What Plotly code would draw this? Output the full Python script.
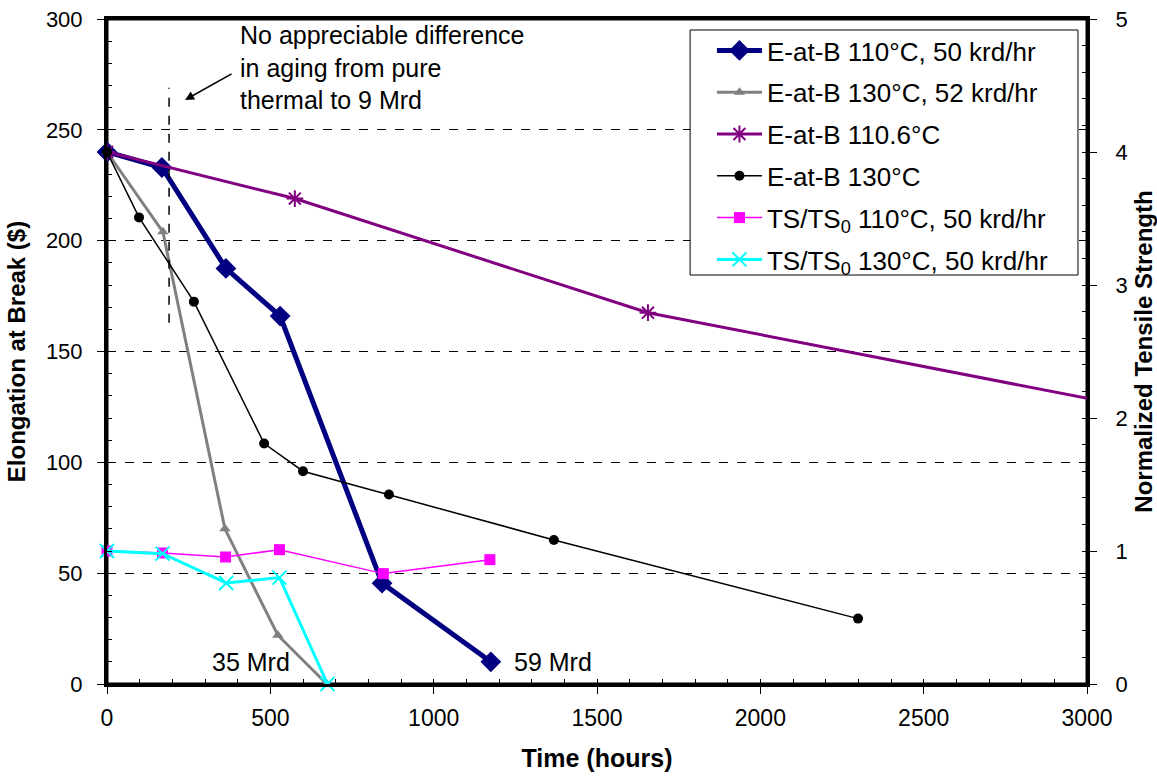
import plotly.graph_objects as go

# E-at-B 110°C, 50 krd/hr
x_eab110r = [0, 168, 364, 530, 842, 1175]
y_eab110r = [240, 233, 187.5, 166, 45.5, 10]
# E-at-B 130°C, 52 krd/hr
x_eab130r = [0, 171, 361, 523, 673]
y_eab130r = [240, 204, 70, 22, 0]
# E-at-B 110.6°C (thermal)
x_eab110t = [0, 575, 1656, 3500]
y_eab110t = [240, 219, 167.5, 114.5]
# E-at-B 130°C (thermal)
x_eab130t = [0, 98, 266, 481, 600, 863, 1368, 2299]
y_eab130t = [240, 210.5, 172.5, 108.5, 96, 85.5, 65, 29.5]
# TS/TS0 110°C, 50 krd/hr
x_ts110 = [0, 170, 363, 528, 846, 1172]
y_ts110 = [1.0, 0.985, 0.955, 1.01, 0.83, 0.935]
# TS/TS0 130°C, 50 krd/hr
x_ts130 = [0, 170, 365, 528, 675]
y_ts130 = [1.0, 0.98, 0.76, 0.80, 0.0]

names = ["E-at-B 110°C, 50 krd/hr", "E-at-B 130°C, 52 krd/hr", "E-at-B 110.6°C",
         "E-at-B 130°C", "TS/TS<sub>0</sub> 110°C, 50 krd/hr", "TS/TS<sub>0</sub> 130°C, 50 krd/hr"]

FONT = "Liberation Sans, Arial, sans-serif"

fig = go.Figure()
fig.add_trace(go.Scatter(x=x_eab110r, y=y_eab110r, name=names[0], mode="lines+markers",
                         line=dict(color="#000080", width=5),
                         marker=dict(symbol="diamond", size=16, color="#000080"),
                         legendgroup="a", cliponaxis=False))
fig.add_trace(go.Scatter(x=x_eab130r, y=y_eab130r, name=names[1], mode="lines+markers",
                         line=dict(color="#808080", width=3),
                         marker=dict(symbol="triangle-up", size=10, color="#808080"),
                         legendgroup="b", cliponaxis=False))
fig.add_trace(go.Scatter(x=x_eab110t, y=y_eab110t, name=names[2], mode="lines+markers",
                         line=dict(color="#800080", width=3),
                         marker=dict(symbol="asterisk-open", size=14, color="#800080",
                                     line=dict(color="#800080", width=2)),
                         legendgroup="c"))
fig.add_trace(go.Scatter(x=x_eab130t, y=y_eab130t, name=names[3], mode="lines+markers",
                         line=dict(color="black", width=1.5),
                         marker=dict(symbol="circle", size=10, color="black"),
                         legendgroup="d", cliponaxis=False))
fig.add_trace(go.Scatter(x=x_ts110, y=y_ts110, name=names[4], mode="lines+markers", yaxis="y2",
                         line=dict(color="#FF00FF", width=1.5),
                         marker=dict(symbol="square", size=11, color="#FF00FF"),
                         legendgroup="e", cliponaxis=False))
fig.add_trace(go.Scatter(x=x_ts130, y=y_ts130, name=names[5], mode="lines+markers", yaxis="y2",
                         line=dict(color="#00FFFF", width=3),
                         marker=dict(symbol="x-thin-open", size=14, color="#00FFFF",
                                     line=dict(color="#00FFFF", width=2)),
                         legendgroup="f", cliponaxis=False))

# plot frame
fig.add_shape(type="rect", xref="x domain", yref="y domain", x0=0, x1=1, y0=0, y1=1,
              line=dict(color="black", width=3), layer="below")
# legend frame
fig.add_shape(type="rect", xref="paper", yref="paper", x0=0.595, x1=0.9908, y0=0.615, y1=0.9835,
              line=dict(color="black", width=1), fillcolor="white", layer="above")

# vertical dashed marker line (y from 163 to 269 at t = 190 h)
fig.add_shape(type="line", xref="x", yref="y", x0=190, x1=190, y0=163, y1=269,
              line=dict(color="black", width=1.5, dash="dash"))

fig.add_annotation(x=401, y=300, xref="x", yref="y", xanchor="left", yanchor="top",
                   text="No appreciable difference<br>in aging from pure<br>thermal to 9 Mrd",
                   showarrow=False, align="left", font=dict(size=25, color="black", family=FONT))
fig.add_annotation(x=239, y=263.5, ax=386, ay=275.6, xref="x", yref="y", axref="x", ayref="y",
                   text="", showarrow=True, arrowhead=2, arrowsize=1.2, arrowwidth=1.5,
                   arrowcolor="black")
fig.add_annotation(x=673, y=10, xref="x", yref="y", xanchor="right", yanchor="middle",
                   text="35 Mrd", showarrow=False, xshift=-35,
                   font=dict(size=25, color="black", family=FONT))
fig.add_annotation(x=1175, y=10, xref="x", yref="y", xanchor="left", yanchor="middle",
                   text="59 Mrd", showarrow=False, xshift=21,
                   font=dict(size=25, color="black", family=FONT))

axis_common = dict(showline=True, linecolor="black", linewidth=3, ticks="outside",
                   ticklen=7, tickwidth=1, tickcolor="black", zeroline=False, automargin=False)

fig.update_layout(
    width=1157, height=778,
    margin=dict(l=107, r=70, t=19, b=94),
    paper_bgcolor="white", plot_bgcolor="white",
    font=dict(family=FONT, color="black"),
    showlegend=True,
    legend=dict(x=0.6173, y=0.988, xanchor="left", yanchor="top",
                bgcolor="rgba(0,0,0,0)", borderwidth=0,
                font=dict(size=26, color="black", family=FONT),
                tracegroupgap=5, itemwidth=45),
    xaxis=dict(range=[0, 3000], dtick=500, showgrid=False, mirror=True,
               tickfont=dict(size=23, color="black", family=FONT), ticklabelstandoff=4,
               title=dict(text="<b>Time (hours)</b>", font=dict(size=25, family=FONT), standoff=20),
               minor=dict(ticks="inside", dtick=100, ticklen=5, tickcolor="black", showgrid=False),
               **axis_common),
    yaxis=dict(range=[0, 300], dtick=50, showgrid=True, gridcolor="black", griddash="dash",
               gridwidth=1, mirror=True,
               tickfont=dict(size=22, color="black", family=FONT), ticklabelstandoff=10,
               title=dict(text="<b>Elongation at Break ($)</b>", font=dict(size=24, family=FONT), standoff=14),
               minor=dict(ticks="inside", dtick=10, ticklen=5, tickcolor="black", showgrid=False),
               **axis_common),
    yaxis2=dict(range=[0, 5], dtick=1, overlaying="y", side="right", showgrid=False,
                tickfont=dict(size=22, color="black", family=FONT), ticklabelstandoff=14,
                title=dict(text="<b>Normalized Tensile Strength</b>", font=dict(size=24, family=FONT), standoff=12),
                minor=dict(ticks="inside", dtick=0.2, ticklen=5, tickcolor="black", showgrid=False),
                **axis_common),
)

fig.write_html("out.html")
